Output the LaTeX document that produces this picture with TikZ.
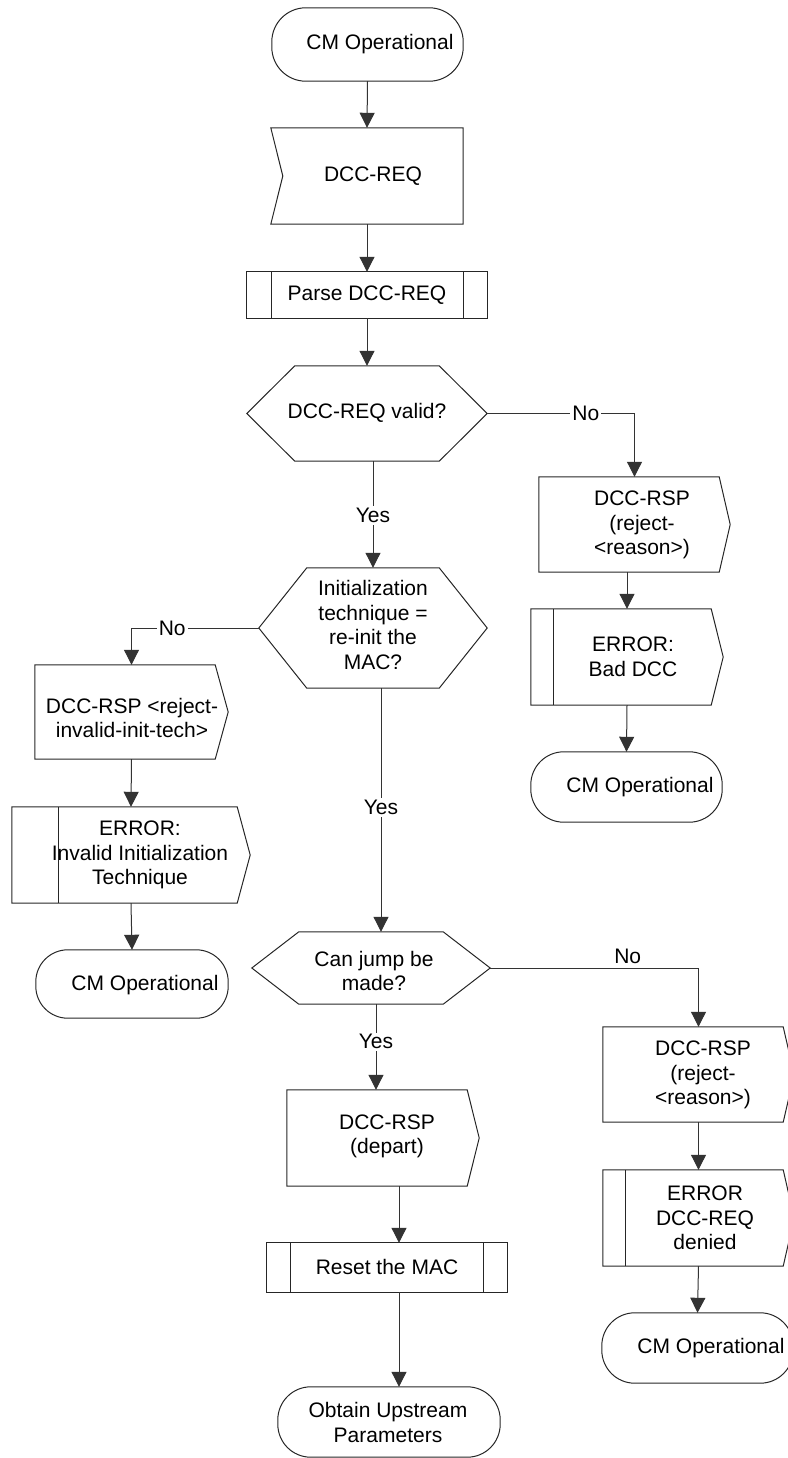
\documentclass[tikz,border=0pt]{standalone}
\usepackage{fontspec}
\setmainfont{Liberation Sans}
\usetikzlibrary{arrows.meta,calc}
\begin{document}
\begin{tikzpicture}[x=1pt,y=-1pt,
  every node/.style={font=\fontsize{21}{24.5}\selectfont, align=center, inner sep=0pt},
  shp/.style={draw=none, rectangle, inner sep=0pt},
  outl/.style={draw=black!85, line width=1pt, line join=miter},
  conn/.style={draw=black!80, line width=1pt, -{Triangle[width=15pt,length=15pt]}},
  lbl/.style={fill=white, inner sep=2pt}]
\useasboundingbox (0,0) rectangle (787,1458);

% ---- shape nodes ----
\node[shp, minimum width=191, minimum height=73] (start) at (367.5,44.5) {};
\node (startT) at (380,44) {CM Operational};
\draw[outl, rounded corners=34] (start.north west) rectangle (start.south east);

\node[shp, minimum width=192, minimum height=96] (req) at (367,176) {};
\node (reqT) at (373,176) {DCC-REQ};
\draw[outl] (req.north west) -- (req.north east) -- (req.south east) -- (req.south west) -- ([xshift=12]req.west) -- cycle;

\node[shp, minimum width=240, minimum height=46] (parse) at (367,295) {};
\node (parseT) at (367,295) {Parse DCC-REQ};
\draw[outl] (parse.north west) rectangle (parse.south east);
\draw[outl] ([xshift=25]parse.north west) -- ([xshift=25]parse.south west);
\draw[outl] ([xshift=-24]parse.north east) -- ([xshift=-24]parse.south east);

\node[shp, minimum width=240, minimum height=95] (hex1) at (367,413.5) {};
\node (hex1T) at (367,413) {DCC-REQ valid?};
\draw[outl] (hex1.west) -- ([xshift=48]hex1.north west) -- ([xshift=-48]hex1.north east) -- (hex1.east) -- ([xshift=-48]hex1.south east) -- ([xshift=48]hex1.south west) -- cycle;

\node[shp, minimum width=191, minimum height=95] (rsp1) at (634.5,524.5) {};
\node (rsp1T) at (642,525) {DCC-RSP\\(reject-\\<reason>)};
\draw[outl] (rsp1.north west) -- ([xshift=-11]rsp1.north east) -- (rsp1.east) -- ([xshift=-11]rsp1.south east) -- (rsp1.south west) -- cycle;

\node[shp, minimum width=192, minimum height=96] (err1) at (627,657) {};
\node (err1T) at (633,657) {ERROR:\\Bad DCC};
\draw[outl] (err1.north west) -- ([xshift=-12]err1.north east) -- (err1.east) -- ([xshift=-12]err1.south east) -- (err1.south west) -- cycle;
\draw[outl] ([xshift=23]err1.north west) -- ([xshift=23]err1.south west);

\node[shp, minimum width=191, minimum height=70] (cm1) at (626.5,787) {};
\node (cm1T) at (640,787) {CM Operational};
\draw[outl, rounded corners=33] (cm1.north west) rectangle (cm1.south east);

\node[shp, minimum width=228, minimum height=120] (hex2) at (373,628) {};
\node (hex2T) at (373,625) {Initialization\\technique =\\re-init the\\MAC?};
\draw[outl] (hex2.west) -- ([xshift=48]hex2.north west) -- ([xshift=-48]hex2.north east) -- (hex2.east) -- ([xshift=-48]hex2.south east) -- ([xshift=48]hex2.south west) -- cycle;

\node[shp, minimum width=193, minimum height=94] (rspL) at (131.5,712) {};
\node (rspLT) at (132,718) {DCC-RSP <reject-\\invalid-init-tech>};
\draw[outl] (rspL.north west) -- ([xshift=-13]rspL.north east) -- (rspL.east) -- ([xshift=-13]rspL.south east) -- (rspL.south west) -- cycle;

\node[shp, minimum width=238, minimum height=96] (errL) at (131,855) {};
\node (errLT) at (140,855) {ERROR:\\Invalid Initialization\\Technique};
\draw[outl] (errL.north west) -- ([xshift=-13]errL.north east) -- (errL.east) -- ([xshift=-13]errL.south east) -- (errL.south west) -- cycle;
\draw[outl] ([xshift=47]errL.north west) -- ([xshift=47]errL.south west);

\node[shp, minimum width=192, minimum height=68] (cmL) at (132,984) {};
\node (cmLT) at (145,985) {CM Operational};
\draw[outl, rounded corners=32] (cmL.north west) rectangle (cmL.south east);

\node[shp, minimum width=238, minimum height=72] (hex3) at (371,968) {};
\node (hex3T) at (374,971) {Can jump be\\made?};
\draw[outl] (hex3.west) -- ([xshift=47]hex3.north west) -- ([xshift=-47]hex3.north east) -- (hex3.east) -- ([xshift=-47]hex3.south east) -- ([xshift=47]hex3.south west) -- cycle;

\node[shp, minimum width=192, minimum height=96] (rspD) at (383,1138) {};
\node (rspDT) at (387,1136.5) {DCC-RSP\\(depart)};
\draw[outl] (rspD.north west) -- ([xshift=-12]rspD.north east) -- (rspD.east) -- ([xshift=-12]rspD.south east) -- (rspD.south west) -- cycle;

\node[shp, minimum width=240, minimum height=49] (reset) at (387,1267.5) {};
\node (resetT) at (387,1267) {Reset the MAC};
\draw[outl] (reset.north west) rectangle (reset.south east);
\draw[outl] ([xshift=24]reset.north west) -- ([xshift=24]reset.south west);
\draw[outl] ([xshift=-24]reset.north east) -- ([xshift=-24]reset.south east);

\node[shp, minimum width=222, minimum height=70] (obtain) at (389,1422) {};
\node (obtainT) at (388,1422.5) {Obtain Upstream\\Parameters};
\draw[outl, rounded corners=33] (obtain.north west) rectangle (obtain.south east);

\node[shp, minimum width=191, minimum height=95] (rsp2) at (698.5,1074.5) {};
\node (rsp2T) at (703,1075) {DCC-RSP\\(reject-\\<reason>)};
\draw[outl] (rsp2.north west) -- ([xshift=-11]rsp2.north east) -- (rsp2.east) -- ([xshift=-11]rsp2.south east) -- (rsp2.south west) -- cycle;

\node[shp, minimum width=191, minimum height=96] (err2) at (698.5,1218) {};
\node (err2T) at (705,1218) {ERROR\\DCC-REQ\\denied};
\draw[outl] (err2.north west) -- ([xshift=-11]err2.north east) -- (err2.east) -- ([xshift=-11]err2.south east) -- (err2.south west) -- cycle;
\draw[outl] ([xshift=23]err2.north west) -- ([xshift=23]err2.south west);

\node[shp, minimum width=191, minimum height=70] (cm3) at (697.5,1348) {};
\node (cm3T) at (711,1348) {CM Operational};
\draw[outl, rounded corners=33] (cm3.north west) rectangle (cm3.south east);

% ---- column helpers ----
\coordinate (cC) at (381,0);
\coordinate (cD) at (376,0);
\coordinate (cE) at (399,0);

% ---- connectors ----
\draw[conn] (start.south) -- (req.north);
\draw[conn] (req.south) -- (parse.north);
\draw[conn] (parse.south) -- (hex1.north);
\draw[conn] (hex1.south -| hex2.north) -- node[lbl, pos=0.51] (y1) {Yes} (hex2.north);
\draw[conn] (hex1.east) -- node[lbl, pos=0.67] (n1) {No} (hex1.east -| rsp1.north) -- (rsp1.north);
\draw[conn] (rsp1.south -| err1.north) -- (err1.north);
\draw[conn] (err1.south) -- (cm1.north);
\draw[conn] (hex2.west) -- node[lbl, pos=0.68] (n2) {No} (hex2.west -| rspL.north) -- (rspL.north);
\draw[conn] (rspL.south) -- (errL.north);
\draw[conn] (errL.south) -- (cmL.north);
\draw[conn] (hex2.south -| cC) -- node[lbl, pos=0.49] (y2) {Yes} (hex3.north -| cC);
\draw[conn] (hex3.east) -- node[above=4pt, pos=0.66] (n3) {No} (hex3.east -| rsp2.north) -- (rsp2.north);
\draw[conn] (hex3.south -| cD) -- node[lbl, pos=0.44] (y3) {Yes} (rspD.north -| cD);
\draw[conn] (rspD.south -| cE) -- (reset.north -| cE);
\draw[conn] (reset.south -| cE) -- (obtain.north -| cE);
\draw[conn] (rsp2.south) -- (err2.north);
\draw[conn] (err2.south) -- (cm3.north);
\end{tikzpicture}
\end{document}
